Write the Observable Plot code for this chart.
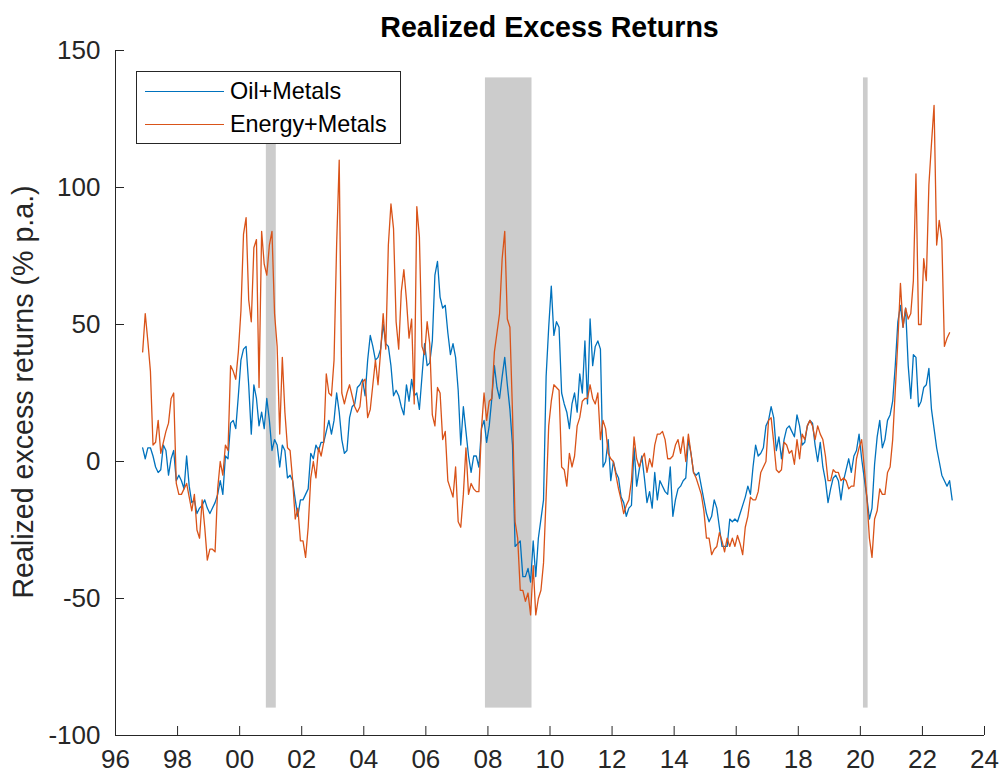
<!DOCTYPE html>
<html>
<head>
<meta charset="utf-8">
<script src="https://cdn.jsdelivr.net/npm/d3@7"></script>
<script src="https://cdn.jsdelivr.net/npm/@observablehq/plot@0.6"></script>
<style>
  html, body { margin: 0; padding: 0; background: #fff; }
  #wrap { position: relative; width: 1002px; height: 779px; overflow: hidden; background: #fff;
          font-family: "Liberation Sans", Arial, Helvetica, sans-serif; }
  #chart { position: absolute; left: 0; top: 0; }
  #title { position: absolute; left: 115px; width: 869px; top: 13px; text-align: center;
           font-weight: bold; font-size: 28.6px; line-height: 28.6px; color: #000; white-space: nowrap; }
  #ylabel { position: absolute; left: 23px; top: 392px; transform: translate(-50%, -50%) rotate(-90deg);
            font-size: 28.6px; line-height: 28.6px; color: #262626; white-space: nowrap; }
  #legend { position: absolute; left: 136px; top: 71px; width: 265px; height: 73px; box-sizing: border-box;
            border: 1px solid #262626; background: #fff; }
  .lg-line { position: absolute; left: 8px; width: 79px; height: 0; border-top-width: 1.3px; border-top-style: solid; }
  .lg-text { position: absolute; left: 93px; font-size: 23.4px; line-height: 23.4px; color: #000; white-space: nowrap; }
</style>
</head>
<body>
<div id="wrap">
  <div id="chart"></div>
  <div id="title">Realized Excess Returns</div>
  <div id="ylabel">Realized excess returns (% p.a.)</div>
  <div id="legend"></div>
</div>
<script>
// ---------------- data ----------------
const seriesNames = ["Oil+Metals", "Energy+Metals"];
const seriesColors = ["#0072BD", "#D95319"];

// monthly observations, first month = November 1996
const firstYear = 1996;
const firstMonth = 11;

const oilMetals = [
  5, 1, 5, 5, 2, -2, -4, -3, 6, 4, -5, 1,
  4, -7, -5, -7, -10, 2, -9, -15, -14, -19, -17, -16,
  -14, -17, -19, -17, -15, -12, -7, -12, 2, 1, 14, 15,
  12, 24, 37, 41, 42, 28, 10, 28, 23, 13, 18, 12,
  23, 15, 4, 8, 6, -2, 6, 4, -6, -5, -7, -14,
  -20, -14, -14, -12, -10, 3, 1, 6, 4, 7, 7, 11,
  15, 10, 15, 25, 18, 8, 3, 4, 16, 20, 21, 27,
  28, 30, 24, 37, 46, 42, 37, 38, 41, 50, 43, 42,
  35, 24, 26, 24, 20, 17, 28, 22, 30, 24, 25, 19,
  31, 43, 35, 36, 44, 68, 73, 60, 56, 57, 47, 39,
  43, 38, 26, 6, 20, 11, 2, -4, 2, 2, -2, 12,
  15, 7, 13, 23, 35, 27, 23, 31, 38, 28, 19, 6,
  -31, -30, -29, -42, -42, -39, -44, -29, -42, -28, -21, -14,
  31, 49, 64, 46, 51, 49, 25, 21, 18, 12, 21, 25,
  18, 32, 25, 44, 21, 52, 35, 42, 44, 41, -2, 0,
  8, -7, 0, -4, -6, -13, -15, -20, -17, -16, 5, -9,
  -3, 2, -6, -15, -11, -17, -4, -14, -7, -9, -11, -12,
  -2, -20, -14, -10, -9, -7, -6, 8, 3, -4, -5, -4,
  -9, -14, -19, -22, -20, -14, -17, -24, -31, -31, -31, -21,
  -22, -21, -22, -19, -16, -13, -9, -12, -2, 6, 2, 3,
  5, 13, 15, 20, 16, 4, 9, 1, 8, 12, 13, 11,
  9, 17, 13, 6, 7, 13, 15, 14, 6, 0, 7, -2,
  -7, -15, -10, -6, -5, -7, -14, -7, -3, 1, -4, 2,
  4, 10, 1, -6, -13, -21, -17, -1, 9, 15, 5, 8,
  15, 17, 22, 35, 51, 57, 49, 56, 35, 23, 39, 38,
  20, 22, 27, 28, 34, 19, 12, 5, 0, -5, -7, -9,
  -7, -14
];

const energyMetals = [
  40, 54, 44, 33, 6, 7, 15, 3, 7, 11, 14, 23,
  25, -8, -12, -12, -10, -8, -13, -18, -12, -25, -28, -14,
  -24, -36, -32, -32, -33, -10, 0, -5, 6, 4, 35, 33,
  30, 40, 55, 83, 89, 59, 51, 78, 81, 27, 84, 72,
  68, 79, 84, 54, 42, 10, 38, 18, 5, 4, -7, -21,
  -17, -29, -29, -35, -24, -6, 0, -6, 5, 2, 7, 32,
  25, 24, 37, 79, 110, 25, 21, 25, 28, 24, 20, 18,
  20, 29, 30, 16, 19, 28, 37, 28, 40, 54, 41, 79,
  94, 85, 51, 41, 62, 70, 59, 45, 52, 21, 93, 82,
  42, 39, 51, 43, 17, 13, 27, 25, 8, 11, -7, -10,
  -13, -2, -22, -24, -12, 5, -12, -8, -10, -11, -11, 12,
  25, 15, 22, 23, 40, 47, 54, 74, 84, 52, 49, 18,
  -22, -28, -47, -47, -51, -48, -56, -38, -56, -50, -47, -37,
  -13, 13, 22, 28, 27, 26, -2, -3, -9, 3, -2, 2,
  13, 16, 22, 23, 23, 28, 23, 21, 25, 8, 15, 12,
  3, 1, 0, -5, -10, -14, -19, -16, -14, -7, 9, 1,
  -2, 1, 3, -4, 1, -2, 6, 10, 10, 11, 8, 1,
  1, 2, 6, 8, 3, 9, 0, 10, 3, -4, -6, -9,
  -12, -18, -28, -28, -34, -32, -31, -26, -29, -33, -28, -31,
  -28, -31, -27, -30, -34, -24, -20, -13, -14, -14, -11, -4,
  -2, 0, 15, 16, 7, -3, -4, -3, 7, 6, 3, 4,
  -1, 8, 1, 10, 8, 13, 15, 13, 8, 13, 10, 8,
  2, -7, -7, -3, -4, -4, -7, -6, -7, -10, -9, -9,
  1, 5, 8, -2, -13, -28, -35, -21, -18, -10, -12, -12,
  -4, -2, 8, 26, 44, 65, 49, 56, 52, 54, 66, 105,
  50, 50, 74, 66, 101, 116, 130, 79, 88, 81, 42, 45,
  47
];

// shaded recession periods (decimal years) and their vertical extent
const recessionStart = [2000.86, 2007.92, 2020.10];
const recessionEnd   = [2001.18, 2009.42, 2020.25];
const shadeLow = -90;
const shadeHigh = 140;

// axes
const xTicks = [1996, 1998, 2000, 2002, 2004, 2006, 2008, 2010, 2012, 2014, 2016, 2018, 2020, 2022, 2024];
const xTickLabels = ["96", "98", "00", "02", "04", "06", "08", "10", "12", "14", "16", "18", "20", "22", "24"];
const yTicks = [-100, -50, 0, 50, 100, 150];
const yTickLabels = ["-100", "-50", "0", "50", "100", "150"];

// ---------------- layout ----------------
const W = 1002, H = 779;
const mL = 115, mR = 18, mT = 50, mB = 44;
const frameW = W - mL - mR, frameH = H - mT - mB;
const AX = "#262626";
const FONT = "'Liberation Sans', Arial, Helvetica, sans-serif";

const toRows = (vals, name) => vals.map((v, i) => ({
  t: firstYear + (firstMonth - 1 + i + 0.5) / 12, v, series: name
}));
const oilRows = toRows(oilMetals, seriesNames[0]);
const energyRows = toRows(energyMetals, seriesNames[1]);
const shades = recessionStart.map((s, i) => ({s, e: recessionEnd[i], lo: shadeLow, hi: shadeHigh}));

const chart = Plot.plot({
  width: W, height: H,
  marginLeft: mL, marginRight: mR, marginTop: mT, marginBottom: mB,
  style: {fontFamily: FONT, fontSize: "26px", color: AX, background: "white", overflow: "visible"},
  x: {type: "linear", domain: [1996, 2024]},
  y: {type: "linear", domain: [-100, 150]},
  marks: [
    Plot.rect(shades, {x1: "s", x2: "e", y1: "lo", y2: "hi", fill: "#cccccc"}),
    Plot.line(oilRows, {x: "t", y: "v", stroke: seriesColors[0], strokeWidth: 1.3}),
    Plot.line(energyRows, {x: "t", y: "v", stroke: seriesColors[1], strokeWidth: 1.3}),
    Plot.ruleX([1996], {stroke: AX, strokeWidth: 1}),
    Plot.ruleY([-100], {stroke: AX, strokeWidth: 1}),
    Plot.tickX(xTicks, {x: d => d, stroke: AX, insetTop: frameH - 9}),
    Plot.tickY(yTicks, {y: d => d, stroke: AX, insetRight: frameW - 9}),
    Plot.axisX(xTicks, {tickSize: 0, tickPadding: 14, label: null, fontSize: 26,
      tickFormat: d => xTickLabels[xTicks.indexOf(d)]}),
    Plot.axisY(yTicks, {tickSize: 0, tickPadding: 15, label: null, fontSize: 26,
      tickFormat: d => yTickLabels[yTicks.indexOf(d)]})
  ]
});
document.getElementById("chart").appendChild(chart);

// legend built from the series names and colours
const legend = document.getElementById("legend");
seriesNames.forEach((name, i) => {
  const line = document.createElement("div");
  line.className = "lg-line";
  line.style.top = (19 + i * 32.7) + "px";
  line.style.borderTopColor = seriesColors[i];
  legend.appendChild(line);
  const txt = document.createElement("div");
  txt.className = "lg-text";
  txt.style.top = (7.5 + i * 33.4) + "px";
  txt.textContent = name;
  legend.appendChild(txt);
});
</script>
</body>
</html>
